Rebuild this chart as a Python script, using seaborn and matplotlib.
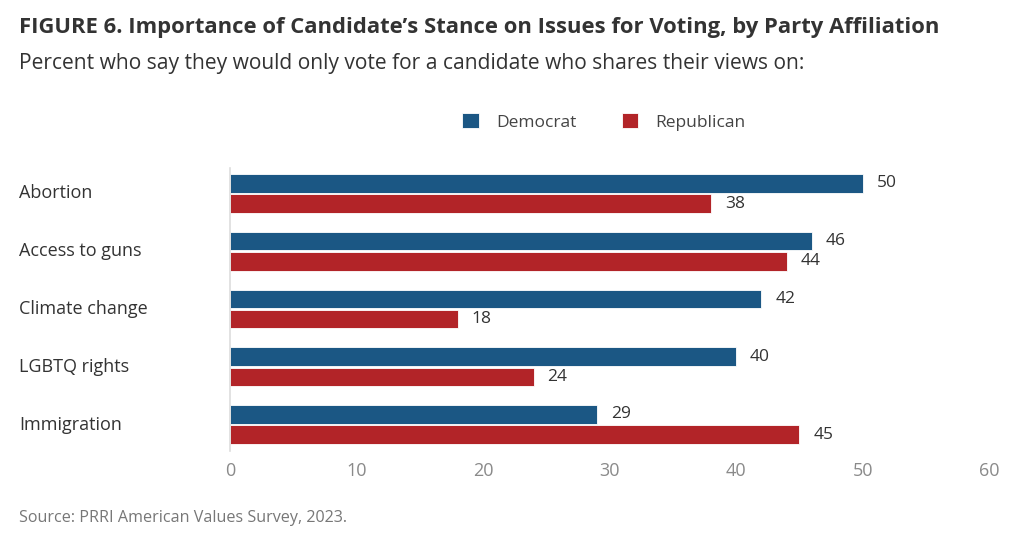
import pandas as pd
import matplotlib.pyplot as plt
import seaborn as sns

# data
issues = ['Abortion', 'Access to guns', 'Climate change', 'LGBTQ rights', 'Immigration']
democrat = [50, 46, 42, 40, 29]
republican = [38, 44, 18, 24, 45]
parties = ['Democrat', 'Republican']
party_colors = ['#1b5784', '#b22428']

df = pd.DataFrame({
    'issue': issues * 2,
    'party': ['Democrat'] * len(issues) + ['Republican'] * len(issues),
    'pct': democrat + republican,
})

sns.set_style('white')
plt.rcParams['font.family'] = ['Open Sans', 'DejaVu Sans']

fig = plt.figure(figsize=(10.24, 5.43), dpi=100)
ax = fig.add_axes([0.2246, 0.1703, 0.966 - 0.2246, 0.6915 - 0.1703])

sns.barplot(data=df, x='pct', y='issue', hue='party', order=issues,
            hue_order=parties, palette=party_colors, saturation=1,
            width=0.7, gap=0.08, edgecolor='white', linewidth=0.6, ax=ax)

for cont in ax.containers:
    ax.bar_label(cont, padding=10, fontsize=12.5, color='#333333')

ax.set_xlim(0, 60)
ax.set_ylim(4.45, -0.45)
ax.set_xticks(range(0, 61, 10))
ax.tick_params(axis='x', length=0, labelsize=13, labelcolor='#8a8a8a', pad=8)
ax.tick_params(axis='y', length=0)
ax.set_yticklabels([])
ax.set_xlabel('')
ax.set_ylabel('')
for s in ['top', 'right', 'bottom']:
    ax.spines[s].set_visible(False)
ax.spines['left'].set_color('#dddddd')
ax.spines['left'].set_linewidth(1.2)

# category labels flush left at the figure edge
for i, name in enumerate(issues):
    fig.text(19 / 1024, 1 - (193.5 + 57.75 * i) / 543, name, fontsize=13,
             color='#333333', va='center', ha='left')

handles, labels = ax.get_legend_handles_labels()
ax.legend(handles, labels, loc='center', bbox_to_anchor=(604 / 1024, 1 - 122 / 543),
          bbox_transform=fig.transFigure, ncol=2, frameon=False, fontsize=12.5,
          handlelength=0.95, handleheight=0.95, handletextpad=1.0, columnspacing=2.6,
          labelcolor='#444444')

fig.text(19 / 1024, 1 - 27 / 543, 'FIGURE 6. Importance of Candidate\u2019s Stance on Issues for Voting, by Party Affiliation',
         fontsize=15.8, fontweight='bold', color='#333333', va='center', ha='left')
fig.text(19 / 1024, 1 - 63 / 543, 'Percent who say they would only vote for a candidate who shares their views on:',
         fontsize=15.1, color='#333333', va='center', ha='left')
fig.text(19 / 1024, 1 - 518 / 543, 'Source: PRRI American Values Survey, 2023.',
         fontsize=11.6, color='#777777', va='center', ha='left')

fig.savefig('out.png', dpi=100)
